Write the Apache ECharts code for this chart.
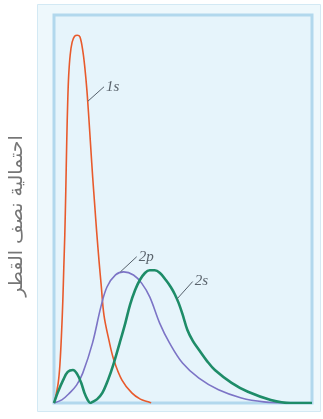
<!DOCTYPE html>
<html>
<head>
<meta charset="utf-8">
<script src="https://cdn.jsdelivr.net/npm/echarts@6/dist/echarts.min.js"></script>
<style>
html,body{margin:0;padding:0;background:#fff;}
#c{width:323px;height:419px;}
</style>
</head>
<body>
<div id="c"></div>
<script>
// Radius (arbitrary units, 0..12) and radial probability (0..1 of plot height)
var r1s = [0, 0.046, 0.196, 0.274, 0.351, 0.411, 0.456, 0.502, 0.548, 0.593, 0.639, 0.684, 0.753, 0.844, 0.958, 1.081, 1.209, 1.346, 1.437, 1.529, 1.620, 1.711, 1.802, 1.894, 1.985, 2.099, 2.190, 2.327, 2.555, 2.783, 3.162, 3.619, 4.015, 4.380, 4.517];
var p1s = [0, 0.008, 0.052, 0.098, 0.180, 0.265, 0.350, 0.433, 0.546, 0.675, 0.778, 0.845, 0.897, 0.930, 0.945, 0.948, 0.943, 0.905, 0.863, 0.807, 0.735, 0.657, 0.580, 0.510, 0.441, 0.363, 0.307, 0.225, 0.162, 0.111, 0.059, 0.026, 0.010, 0.003, 0];

var r2p = [0, 0.365, 0.730, 1.049, 1.337, 1.793, 2.177, 2.464, 2.861, 3.240, 3.696, 4.075, 4.458, 4.914, 5.371, 5.977, 6.740, 7.652, 8.715, 9.765, 10.846];
var p2p = [0, 0.008, 0.026, 0.046, 0.077, 0.155, 0.247, 0.299, 0.330, 0.338, 0.330, 0.309, 0.273, 0.206, 0.155, 0.103, 0.064, 0.034, 0.013, 0.003, 0];

var r2s = [0, 0.183, 0.424, 0.639, 0.881, 1.072, 1.264, 1.415, 1.565, 1.688, 1.793, 2.008, 2.249, 2.510, 2.783, 3.057, 3.317, 3.536, 3.773, 3.993, 4.230, 4.449, 4.686, 4.928, 5.202, 5.430, 5.612, 5.795, 5.977, 6.205, 6.456, 6.739, 7.118, 7.483, 8.259, 9.020, 10.084, 10.996, 12.0];
var p2s = [0, 0.028, 0.059, 0.080, 0.085, 0.075, 0.052, 0.026, 0.008, 0, 0.003, 0.010, 0.026, 0.059, 0.103, 0.155, 0.206, 0.253, 0.291, 0.317, 0.335, 0.342, 0.342, 0.335, 0.317, 0.299, 0.281, 0.258, 0.229, 0.188, 0.160, 0.137, 0.108, 0.085, 0.052, 0.029, 0.008, 0, 0];

// Curve labels and their leader lines [from, to]
var labels = ['1s', '2p', '2s'];
var leaderFrom = [[1.58, 0.778], [3.089, 0.338], [5.72, 0.268]];
var leaderTo = [[2.327, 0.815], [3.847, 0.377], [6.45, 0.313]];

var yTitle = 'احتمالية نصف القطر';

function zip(a, b) { return a.map(function (v, i) { return [v, b[i]]; }); }

var colors = ['#e85a2c', '#7c74c6', '#1e8c68'];
var widths = [1.6, 1.6, 2.6];
var rs = [r1s, r2p, r2s];
var ps = [p1s, p2p, p2s];

var chart = echarts.init(document.getElementById('c'), null, {renderer: 'canvas'});
var series = labels.map(function (name, i) {
  return {
    name: name,
    type: 'line',
    data: zip(rs[i], ps[i]),
    showSymbol: false,
    smooth: 0.35,
    lineStyle: {color: colors[i], width: widths[i]},
    z: i === 2 ? 4 : 3,
    markLine: {
      silent: true,
      symbol: 'none',
      lineStyle: {color: '#55606b', width: 1, type: 'solid'},
      label: {show: false},
      data: [[{coord: leaderFrom[i]}, {coord: leaderTo[i]}]]
    },
    markPoint: {
      silent: true,
      symbol: 'circle',
      symbolSize: 0,
      data: [{coord: leaderTo[i], value: name}],
      label: {
        show: true,
        position: 'right',
        distance: 2,
        formatter: name,
        fontFamily: 'Liberation Serif',
        fontStyle: 'italic',
        fontSize: 15,
        color: '#5a636c'
      }
    }
  };
});

chart.setOption({
  animation: false,
  graphic: [
    {type: 'rect', shape: {x: 37.5, y: 4.5, width: 283, height: 407}, style: {fill: '#eef8fc', stroke: '#d3e9f4', lineWidth: 1}, z: -10}
  ],
  grid: {
    left: 49, top: 15, right: 11, bottom: 16,
    show: true,
    backgroundColor: '#e6f4fb',
    borderColor: '#b2d8ed',
    borderWidth: 3
  },
  xAxis: {
    type: 'value', min: 0, max: 12,
    axisLine: {show: false}, axisTick: {show: false}, axisLabel: {show: false}, splitLine: {show: false}
  },
  yAxis: {
    type: 'value', min: 0, max: 1,
    name: yTitle,
    nameLocation: 'middle',
    nameGap: 27,
    nameRotate: 90,
    nameTextStyle: {fontFamily: 'DejaVu Sans', fontSize: 19, color: '#767676', padding: [0, 14, 0, 0]},
    axisLine: {show: false}, axisTick: {show: false}, axisLabel: {show: false}, splitLine: {show: false}
  },
  series: series
});
</script>
</body>
</html>
